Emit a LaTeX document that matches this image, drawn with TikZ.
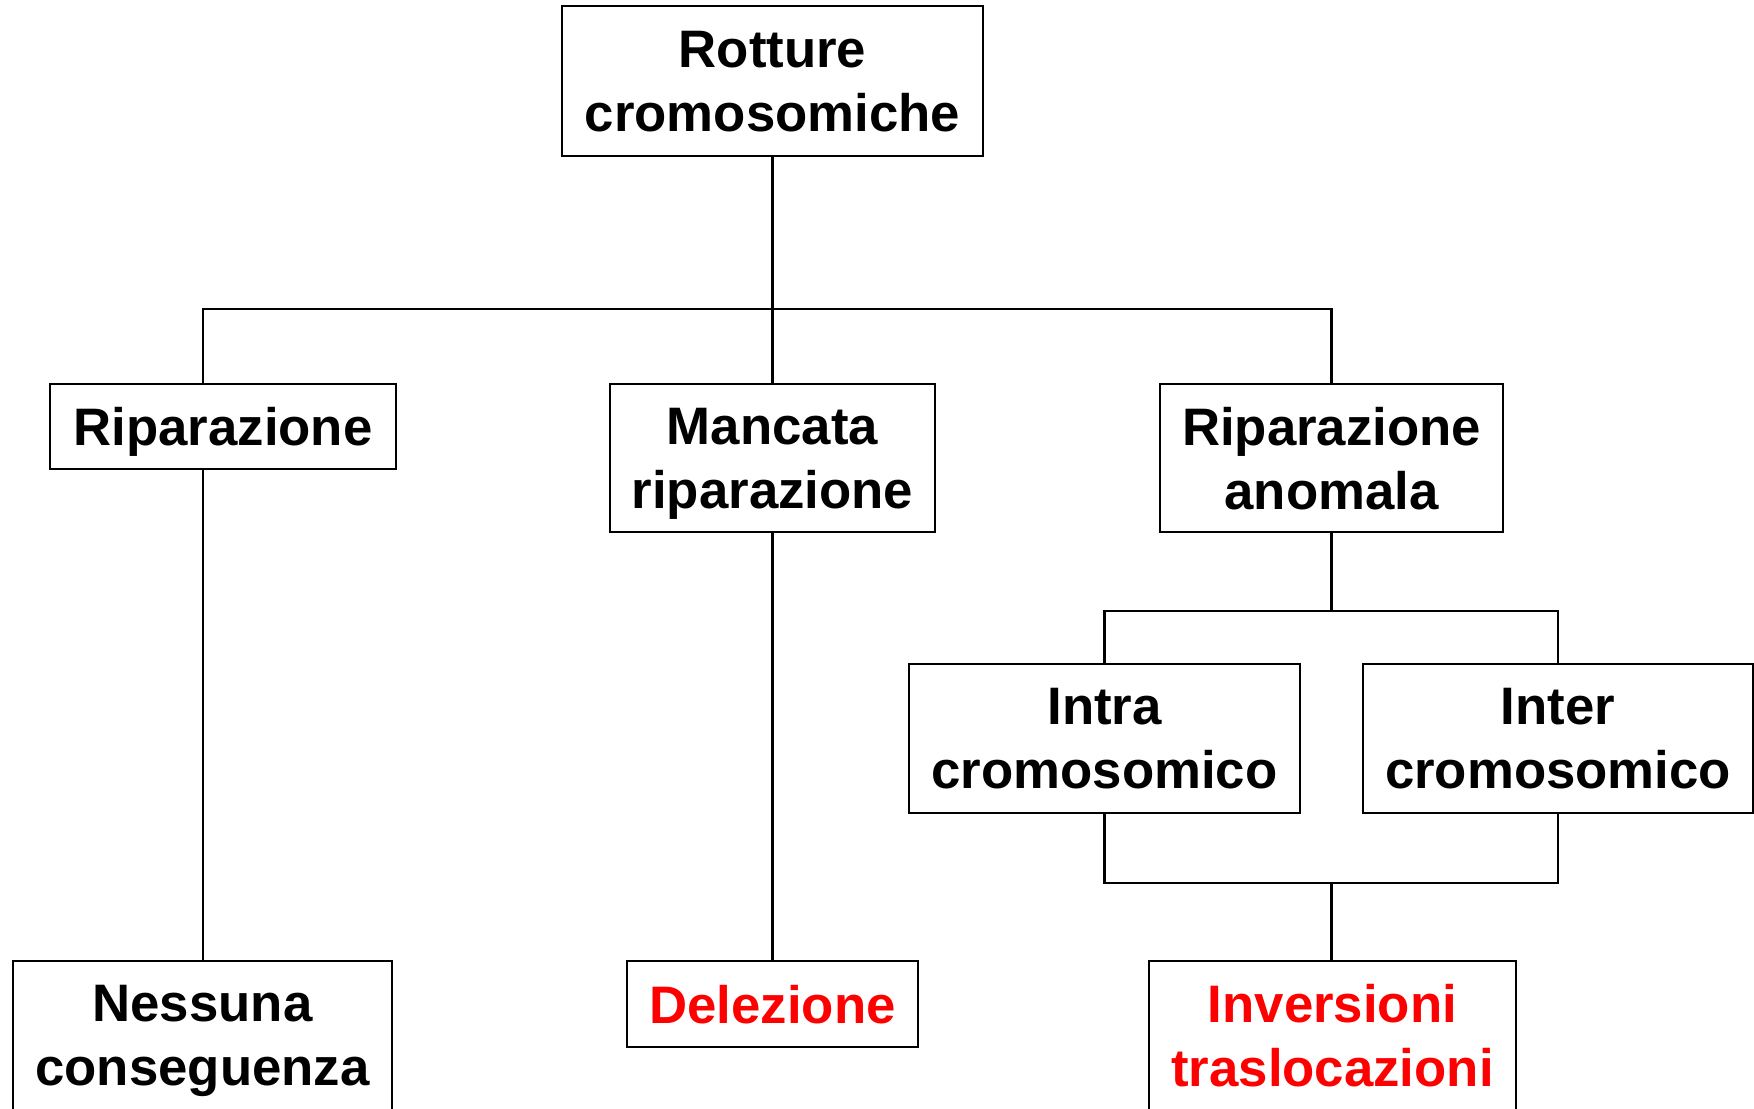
\documentclass[tikz,border=0pt]{standalone}
\usepackage{fontspec}
\setmainfont{Liberation Sans}
\usepackage{xcolor}

\begin{document}
\begin{tikzpicture}[x=0.01cm,y=-0.01cm,
    box/.style={draw,line width=0.6pt,align=center,inner sep=0pt,text depth=0pt,
                font=\fontsize{15}{18.2}\selectfont\bfseries},
    redbox/.style={box,text=red},
    conn/.style={line width=0.6pt}]
    \useasboundingbox (0,0) rectangle (1754,1109);
    % Root
    \node[box,minimum width=4.21cm,minimum height=1.5cm] (rott) at (772.5,81)
          {Rotture\\cromosomiche};
    % Second level
    \node[box,minimum width=3.46cm,minimum height=0.85cm] (rip) at (223,426.5)
          {Riparazione};
    \node[box,minimum width=3.25cm,minimum height=1.48cm] (manc) at (772.5,458)
          {Mancata\\riparazione};
    \node[box,minimum width=3.43cm,minimum height=1.48cm] (anom) at (1331.5,458)
          {Riparazione\\anomala};
    % Abnormal repair
    \node[box,minimum width=3.91cm,minimum height=1.49cm] (intra) at (1104.5,738.5)
          {Intra\\cromosomico};
    \node[box,minimum width=3.90cm,minimum height=1.49cm] (inter) at (1558,738.5)
          {Inter\\cromosomico};
    % Outcomes
    \node[box,minimum width=3.79cm,minimum height=1.49cm] (ness) at (202.5,1035.5)
          {Nessuna\\conseguenza};
    \node[redbox,minimum width=2.91cm,minimum height=0.86cm] (del) at (772.5,1004)
          {Delezione};
    \node[redbox,minimum width=3.67cm,minimum height=1.49cm] (inv) at (1332.5,1035.5)
          {Inversioni\\traslocazioni};
    % Connectors
    \coordinate (jl) at (203,309);
    \coordinate (jr) at (1331.5,309);
    \coordinate (ja) at (1331.5,611);
    \coordinate (jb) at (1331.5,883);
    \draw[conn] (rott.south) -- (manc.north);
    \draw[conn] (rip.north -| jl) -- (jl) -- (jr) -- (anom.north);
    \draw[conn] (rip.south -| jl) -- (ness.north -| jl);
    \draw[conn] (manc.south) -- (del.north);
    \draw[conn] (anom.south) -- (ja);
    \draw[conn] (intra.north) |- (ja) -| (inter.north);
    \draw[conn] (intra.south) |- (jb) -| (inter.south);
    \draw[conn] (jb) -- (inv.north -| jb);
\end{tikzpicture}
\end{document}
